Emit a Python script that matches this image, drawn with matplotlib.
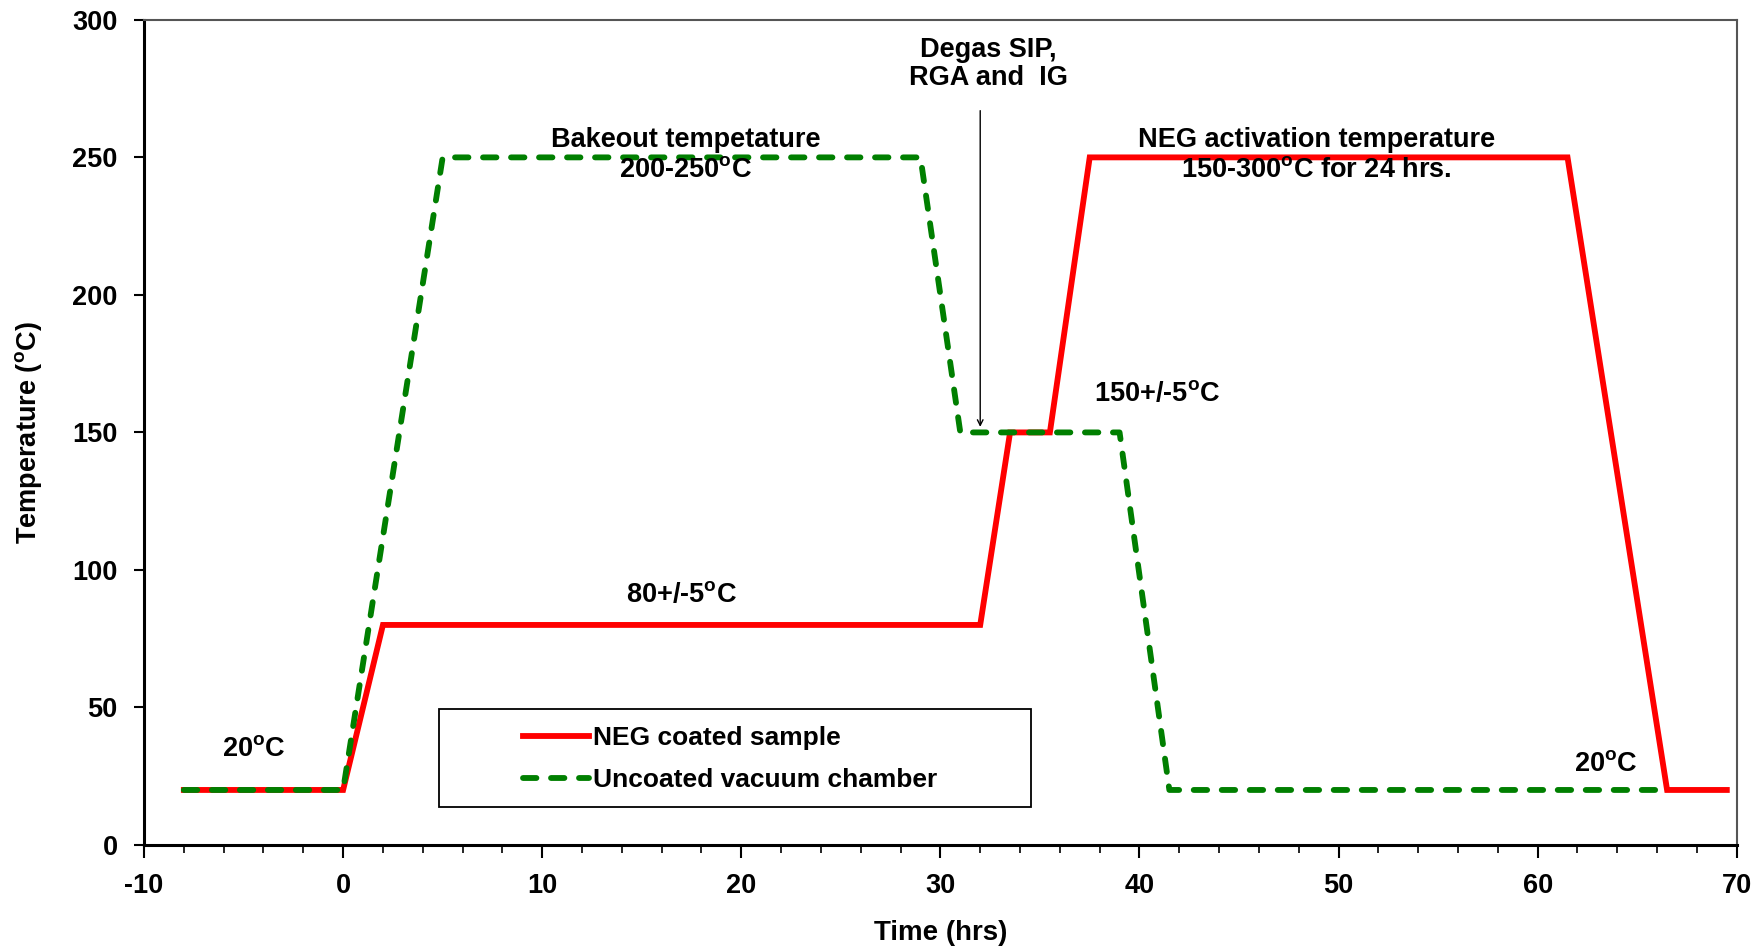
import matplotlib
matplotlib.use("Agg")
import matplotlib.pyplot as plt
from matplotlib.ticker import MultipleLocator
from matplotlib.patches import Rectangle

plt.rcParams['font.family'] = ['Liberation Sans', 'DejaVu Sans']
plt.rcParams['font.weight'] = 'bold'
plt.rcParams['axes.unicode_minus'] = False
plt.rcParams['mathtext.fontset'] = 'custom'
plt.rcParams['mathtext.rm'] = 'Liberation Sans:bold'
plt.rcParams['mathtext.bf'] = 'Liberation Sans:bold'

# temperature profiles (time in hrs, temperature in C)
neg_time = [-8, 0, 2, 32, 33.5, 35.5, 37.5, 61.5, 66.5, 69.5]
neg_temp = [20, 20, 80, 80, 150, 150, 250, 250, 20, 20]
chamber_time = [-8, 0, 5, 29, 31, 39, 41.5, 66.5]
chamber_temp = [20, 20, 250, 250, 150, 150, 20, 20]

deg = r"$^{\mathregular{o}}$"

fig = plt.figure(figsize=(17.65, 9.46), dpi=100)
ax = fig.add_axes([0.0816, 0.1068, 0.9024, 0.8722])

ax.plot(neg_time, neg_temp, color='#ff0000', lw=4.2, label='NEG coated sample',
        solid_joinstyle='miter')
ax.plot(chamber_time, chamber_temp, color='#007f00', lw=4.2, ls=(0, (2.3, 2.5)),
        label='Uncoated vacuum chamber', dash_capstyle='round')

ax.set_xlim(-10, 70)
ax.set_ylim(0, 300)
ax.xaxis.set_major_locator(MultipleLocator(10))
ax.xaxis.set_minor_locator(MultipleLocator(2))
ax.yaxis.set_major_locator(MultipleLocator(50))
ax.tick_params(axis='both', labelsize=19.5, width=1.5)
ax.tick_params(axis='x', which='major', length=9, direction='out', pad=11)
ax.tick_params(axis='x', which='minor', length=6, width=1.2, direction='out')
ax.tick_params(axis='y', length=7, direction='out', pad=12)
for lab in ax.get_xticklabels() + ax.get_yticklabels():
    lab.set_fontweight('bold')

ax.spines['left'].set_linewidth(2.2)
ax.spines['bottom'].set_linewidth(2.2)
ax.spines['top'].set_linewidth(1.5)
ax.spines['top'].set_color('#555555')
ax.spines['right'].set_linewidth(1.5)
ax.spines['right'].set_color('#555555')

ax.set_xlabel('Time (hrs)', fontsize=20, fontweight='bold', labelpad=15)
ax.set_ylabel('Temperature (' + deg + 'C)', fontsize=19.5, fontweight='bold', labelpad=20)

fs = 19.5
ax.text(17.2, 251, 'Bakeout tempetature\n200-250' + deg + 'C', ha='center', va='center',
        fontsize=fs, fontweight='bold', linespacing=1.2)
ax.text(48.9, 251, 'NEG activation temperature\n150-300' + deg + 'C for 24 hrs.', ha='center',
        va='center', fontsize=fs, fontweight='bold', linespacing=1.2)
ax.text(32.4, 284, 'Degas SIP,\nRGA and  IG', ha='center', va='center', fontsize=fs,
        fontweight='bold', linespacing=1.12)
ax.annotate('', xy=(32.0, 151), xytext=(32.0, 268),
            arrowprops=dict(arrowstyle='->', color='black', lw=1.0))
ax.text(40.9, 164, '150+/-5' + deg + 'C', ha='center', va='center', fontsize=fs, fontweight='bold')
ax.text(17.0, 91, '80+/-5' + deg + 'C', ha='center', va='center', fontsize=fs, fontweight='bold')
ax.text(-4.5, 35, '20' + deg + 'C', ha='center', va='center', fontsize=fs, fontweight='bold')
ax.text(63.4, 29.5, '20' + deg + 'C', ha='center', va='center', fontsize=fs, fontweight='bold')

# legend box drawn separately so the entries can sit indented inside it
ax.add_patch(Rectangle((0.185, 0.046), 0.372, 0.119, transform=ax.transAxes, fill=False,
                       edgecolor='black', lw=1.3, zorder=5))
leg = ax.legend(loc='center left', bbox_to_anchor=(0.238, 0.104), frameon=False,
                fontsize=19, handlelength=2.5, borderpad=0, labelspacing=0.7,
                handletextpad=0.15, borderaxespad=0)
for t in leg.get_texts():
    t.set_fontweight('bold')

fig.savefig('out.png', dpi=100)
